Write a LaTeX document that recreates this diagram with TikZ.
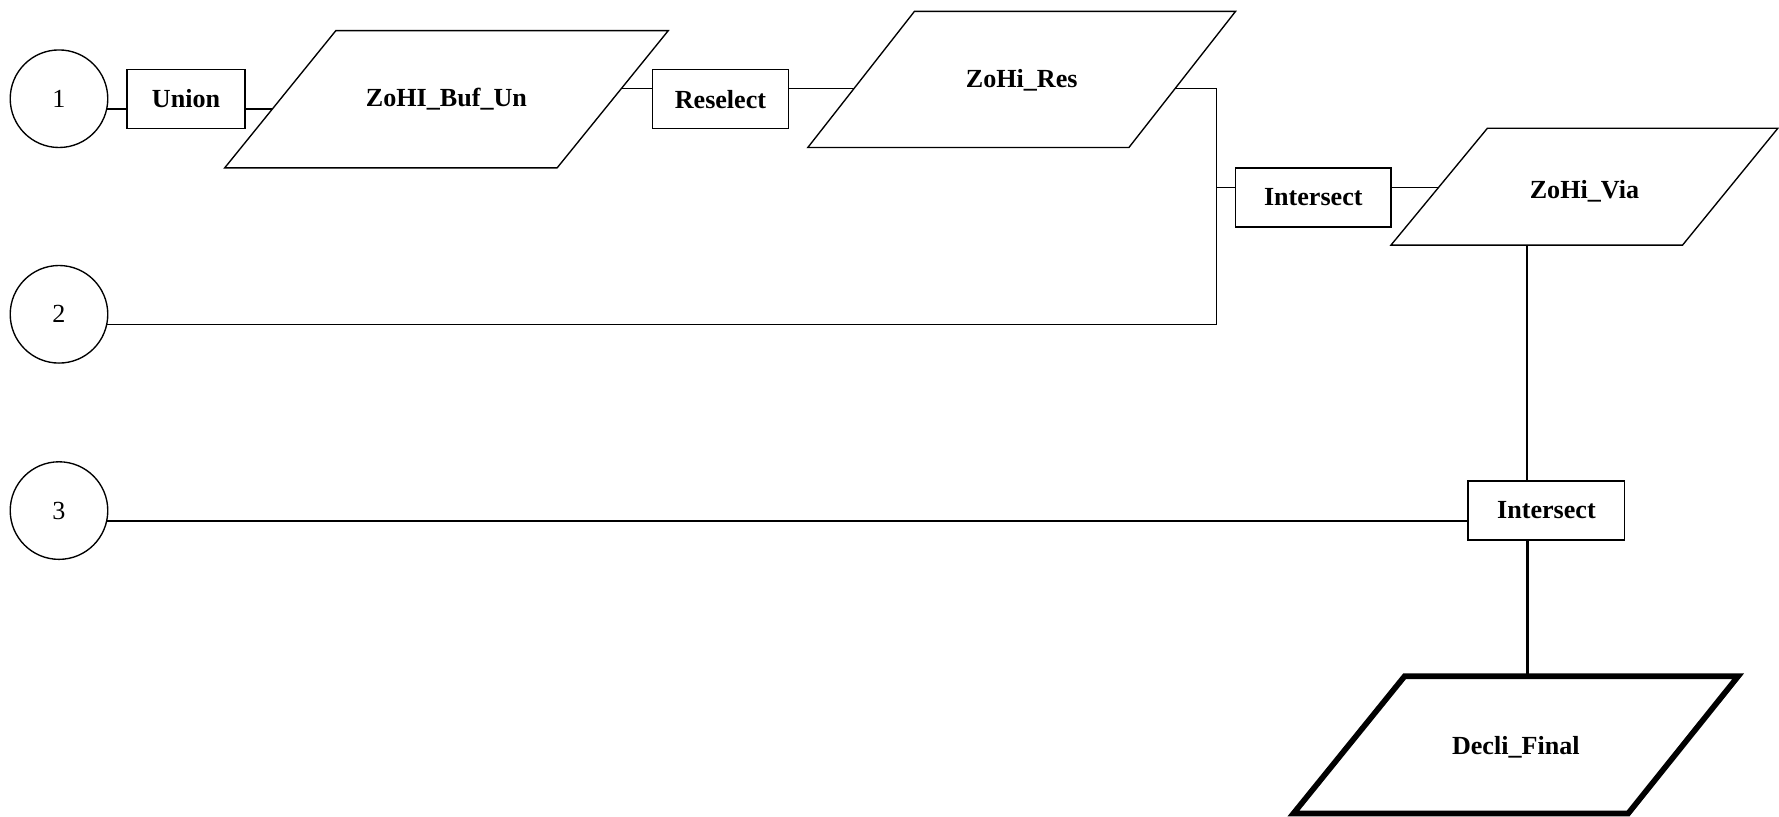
\documentclass[tikz,border=0pt]{standalone}
\usepackage{fontspec}
\setmainfont{Liberation Serif}
\usetikzlibrary{calc}
\begin{document}
\begin{tikzpicture}[x=0.5pt,y=-0.5pt,
  ln/.style={line width=0.6pt},
  circ/.style={circle,draw,line width=0.6pt,minimum size=43pt,inner sep=0pt,font=\fontsize{11.5}{13}\selectfont},
  opbox/.style={draw,line width=0.6pt,minimum width=#1,minimum height=26pt,inner sep=0pt,font=\bfseries\fontsize{11.5}{13}\selectfont},
  lbl/.style={font=\bfseries\fontsize{11.5}{13}\selectfont,inner sep=0pt},
  para/.style={line width=0.6pt,line join=miter},
  parathick/.style={line width=2.5pt,line join=miter}]
\useasboundingbox (0,0) rectangle (1568,720);

% input circles
\node[circ] (c1) at (52,87) {1};
\node[circ] (c2) at (52,277) {2};
\node[circ] (c3) at (52,450) {3};

% operation boxes
\node[opbox=52pt] (un) at (164,87) {Union};
\node[opbox=60pt] (rs) at (635,87.5) {Reselect};
\node[opbox=68.5pt] (is1) at (1157.5,174) {Intersect};
\node[opbox=69pt] (is2) at (1363,450) {Intersect};

% data parallelograms
\draw[para] (296,27) -- (589,27) -- (491,148) -- (198,148) -- cycle;
\node[lbl] (p1) at (393.5,87.5) {ZoHI\_Buf\_Un};
\draw[para] (806,10) -- (1089,10) -- (995,130) -- (712,130) -- cycle;
\node[lbl] (p2) at (900.5,70.5) {ZoHi\_Res};
\draw[para] (1311,113) -- (1567,113) -- (1483,216) -- (1226,216) -- cycle;
\node[lbl] (p3) at (1396.5,168.5) {ZoHi\_Via};
\draw[parathick] (1238,596) -- (1532,596) -- (1435,717) -- (1140,717) -- cycle;
\node[lbl] (p4) at (1336,658.5) {Decli\_Final};

% connection points on parallelogram edges
\coordinate (p1w) at (240,96);
\coordinate (p1e) at (548,78);
\coordinate (p2w) at (752.7,78);
\coordinate (p2e) at (1035.7,78);
\coordinate (p3w) at (1268,165);
\coordinate (p3s) at (1346,216);
\coordinate (p4n) at (1346,596);
\coordinate (j) at (1072,165);

% connectors
\draw[ln] (c1.-12) -- (c1.-12 -| un.west);
\draw[ln] (un.east |- p1w) -- (p1w);
\draw[ln] (p1e) -- (p1e -| rs.west);
\draw[ln] (rs.east |- p2w) -- (p2w);
\draw[ln] (p2e) -- (j |- p2e) -- (j |- c2.-12) -- (c2.-12);
\draw[ln] (j) -- (j -| is1.west);
\draw[ln] (is1.east |- p3w) -- (p3w);
\draw[ln] (p3s) -- (p3s |- is2.north);
\draw[ln] (c3.-12) -- (c3.-12 -| is2.west);
\draw[line width=1.3pt] (p4n |- is2.south) -- (p4n);
\end{tikzpicture}
\end{document}
